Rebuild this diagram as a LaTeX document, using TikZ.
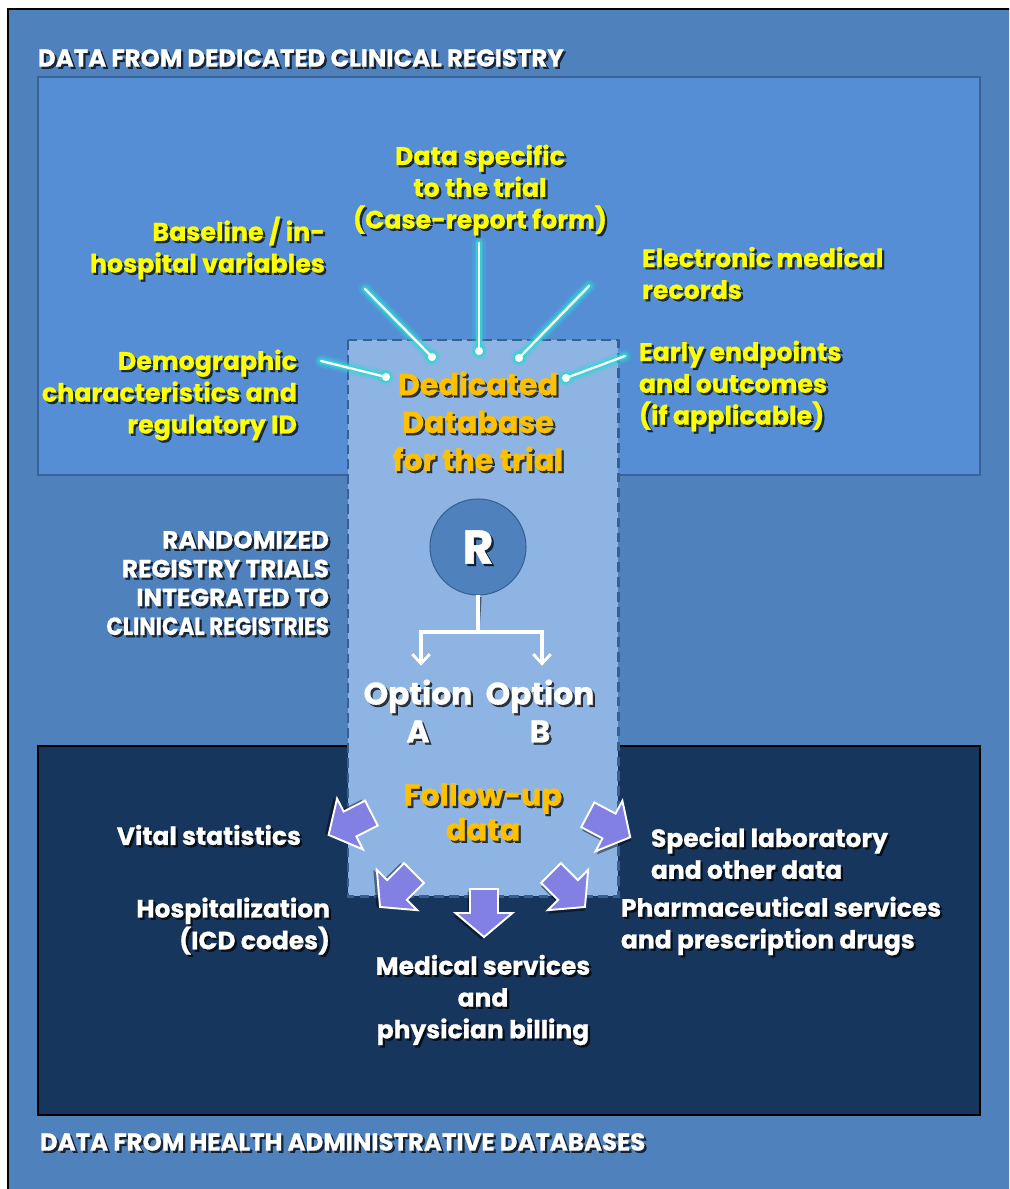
\documentclass[tikz,border=0pt]{standalone}
\usepackage{graphicx}
\usepackage{fontspec}
\setmainfont{Poppins}[BoldFont={* Bold},BoldFeatures={FakeBold=0.8}]
\usetikzlibrary{arrows.meta}

\definecolor{outerblue}{RGB}{79,129,189}
\definecolor{topfill}{RGB}{85,142,213}
\definecolor{topedge}{RGB}{57,99,150}
\definecolor{botfill}{RGB}{23,54,93}
\definecolor{dbfill}{RGB}{142,180,227}
\definecolor{dbedge}{RGB}{55,96,146}
\definecolor{glowcol}{RGB}{51,214,214}
\definecolor{lblyellow}{RGB}{255,255,0}
\definecolor{lblgold}{RGB}{255,192,0}
\definecolor{arrowfill}{RGB}{130,128,226}

\tikzset{
  every node/.style={inner sep=0pt, outer sep=0pt},
  heading/.style={text=white, font=\fontsize{13.9}{16}\selectfont\bfseries},
  ylabel/.style={text=lblyellow, font=\fontsize{14.4}{18.1}\selectfont\bfseries},
  wlabel/.style={text=white, font=\fontsize{14.2}{18.1}\selectfont\bfseries},
  sidelabel/.style={text=white, align=right, font=\fontsize{14.1}{16.4}\selectfont\bfseries},
  biglabel/.style={text=lblgold, align=center, font=\fontsize{17.2}{21.5}\selectfont\bfseries},
  optlabel/.style={text=white, align=center, font=\fontsize{17.8}{21.5}\selectfont\bfseries},
  glowline/.style={line cap=round},
  treeline/.style={line width=1.8pt, white},
  blockarrow/.pic={
    \fill[black, opacity=0.45, xshift=0.05cm, yshift=-0.05cm]
      (-24,-14) -- (0,-14) -- (0,-28.5) -- (24,0) -- (0,28.5) -- (0,14) -- (-24,14) -- cycle;
    \filldraw[fill=arrowfill, draw=white, line width=1.1pt, line join=miter]
      (-24,-14) -- (0,-14) -- (0,-28.5) -- (24,0) -- (0,28.5) -- (0,14) -- (-24,14) -- cycle;
  }
}

% text with a dark drop shadow
\newcommand\stext[4]{%
  \node[#3, text=black, text opacity=0.7, xshift=0.045cm, yshift=-0.045cm] at (#2) {#4};
  \node[#3] (#1) at (#2) {#4};
}

% glowing connector ending in a dot
\newcommand\glowlink[2]{%
  \draw[glowline, glowcol, opacity=0.2, line width=7.5pt] (#1) -- (#2);
  \draw[glowline, glowcol, opacity=0.4, line width=5pt] (#1) -- (#2);
  \draw[glowline, glowcol, opacity=0.7, line width=3pt] (#1) -- (#2);
  \fill[glowcol, opacity=0.35] (#2) circle (4.5pt);
  \fill[glowcol, opacity=0.55] (#2) circle (3.4pt);
  \draw[glowline, white, line width=1.3pt] (#1) -- (#2);
  \fill[white] (#2) circle (2.3pt);
}

\begin{document}
\begin{tikzpicture}[x=0.02cm, y=-0.02cm]
\useasboundingbox (0,0) rectangle (1009,1189);
\clip (0,0) rectangle (1009,1189);
\fill[white] (0,0) rectangle (1009,1189);

% outer frame
\filldraw[fill=outerblue, draw=black, line width=1.2pt] (8,9) rectangle (1040,1220);

% registry panel and administrative panel
\filldraw[fill=topfill, draw=topedge, line width=1.6pt] (38,77) rectangle (980,475);
\filldraw[fill=botfill, draw=black, line width=1.3pt] (38,746) rectangle (980,1115);

% dedicated database column
\filldraw[fill=dbfill, draw=dbedge, line width=1.7pt, dash pattern=on 5.5pt off 3pt]
  (348,340) rectangle (618,896);

% headings
\stext{hreg}{38,58}{heading, anchor=west}{DATA FROM DEDICATED CLINICAL REGISTRY}
\stext{hadm}{40,1142}{heading, anchor=west}{DATA FROM HEALTH ADMINISTRATIVE DATABASES}
\stext{rrt}{329,583}{sidelabel, anchor=east}{RANDOMIZED\\REGISTRY TRIALS\\INTEGRATED TO\\\scalebox{0.87}[1]{CLINICAL REGISTRIES}}

% registry data sources
\stext{base}{325,248}{ylabel, anchor=east, align=right}{Baseline / in-\\hospital variables}
\stext{spec}{480,190}{ylabel, align=center}{Data specific\\to the trial\\(Case-report form)}
\stext{emr}{642,273}{ylabel, anchor=west, align=left}{Electronic medical\\records}
\stext{demo}{297,395}{ylabel, anchor=east, align=right}{Demographic\\characteristics and\\regulatory ID}
\stext{early}{639,386}{ylabel, anchor=west, align=left}{Early endpoints\\and outcomes\\(if applicable)}

% connectors into the database
\coordinate (c1s) at (321,361); \coordinate (c1e) at (386,377);
\coordinate (c2s) at (365,289); \coordinate (c2e) at (432,357);
\coordinate (c3s) at (479,243); \coordinate (c3e) at (479,351);
\coordinate (c4s) at (589,286); \coordinate (c4e) at (519,358);
\coordinate (c5s) at (625,356); \coordinate (c5e) at (566,378);
\glowlink{c1s}{c1e}
\glowlink{c2s}{c2e}
\glowlink{c3s}{c3e}
\glowlink{c4s}{c4e}
\glowlink{c5s}{c5e}

\stext{db}{478,421}{biglabel}{Dedicated\\Database\\for the trial}

% randomisation
\filldraw[fill=outerblue, draw=dbedge, line width=0.6pt] (478,547) circle (48);
\stext{R}{478,547}{text=white, font=\fontsize{27}{27}\selectfont\bfseries}{R}
\coordinate (split) at (478,632);
\coordinate (ja) at (421,632);
\coordinate (jb) at (542,632);
\coordinate (ta) at (421,666);
\coordinate (tb) at (542,666);
\begin{scope}[xshift=0.04cm, yshift=-0.04cm, black, opacity=0.5]
  \draw[line width=1.8pt] (478,595) -- (split);
  \draw[line width=1.8pt, -{Straight Barb[length=5.5pt,width=10pt,line width=1.8pt]}] (split) -| (ta);
  \draw[line width=1.8pt, -{Straight Barb[length=5.5pt,width=10pt,line width=1.8pt]}] (split) -| (tb);
\end{scope}
\draw[treeline] (R.south |- 478,595) -- (split);
\draw[treeline, -{Straight Barb[length=5.5pt,width=10pt,line width=1.8pt]}] (split) -- (ja) -- (ta);
\draw[treeline, -{Straight Barb[length=5.5pt,width=10pt,line width=1.8pt]}] (split) -- (jb) -- (tb);

\stext{optA}{418,711}{optlabel}{Option\\A}
\stext{optB}{540,711}{optlabel}{Option\\B}

% follow-up
\stext{fu}{483,812}{biglabel, font=\fontsize{17.3}{19.8}\selectfont\bfseries}{Follow-up\\data}

\pic[rotate=207] at (350,824) {blockarrow};
\pic[rotate=-28] at (609,826) {blockarrow};
\pic[rotate=-135] at (397,890) {blockarrow};
\pic[rotate=-45] at (568,890) {blockarrow};
\pic[rotate=-90] at (484,913) {blockarrow};

% administrative data sources
\stext{vital}{301,835}{wlabel, anchor=east}{Vital statistics}
\stext{hosp}{330,926}{wlabel, anchor=east, align=right}{Hospitalization\\(ICD codes)}
\stext{med}{483,1000}{wlabel, align=center}{Medical services\\and\\physician billing}
\stext{lab}{651,853}{wlabel, anchor=west, align=left}{Special laboratory\\and other data}
\stext{pharm}{621,926}{wlabel, anchor=west, align=left}{Pharmaceutical services\\and prescription drugs}
\end{tikzpicture}
\end{document}
